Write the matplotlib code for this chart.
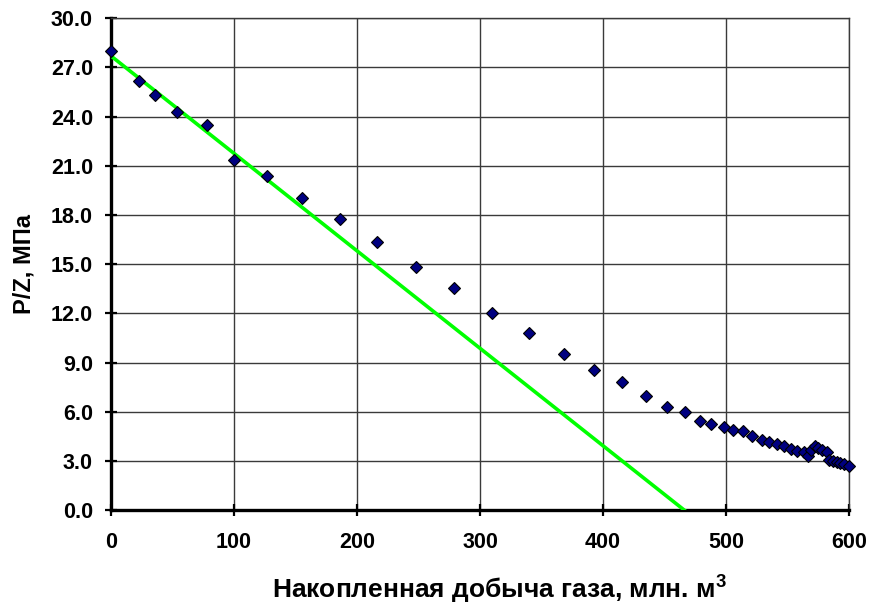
"""P/Z versus cumulative gas production, with the initial trend line."""

import matplotlib

matplotlib.use("Agg")
import matplotlib.pyplot as plt
import numpy as np

# cumulative production, mln m3
PROD = [
    0, 23, 36, 54, 78, 100, 127, 155, 186, 216, 248, 279, 310, 340, 368,
    393, 415, 435, 452, 467, 479, 488, 498, 506, 514, 521, 529, 535, 541,
    547, 553, 558, 563, 567, 569, 572, 575, 578, 582, 584, 587, 590, 593,
    596, 600,
]
# P/Z, MPa
PZ = [
    28.0, 26.15, 25.33, 24.27, 23.46, 21.36, 20.40, 19.02, 17.73, 16.33,
    14.84, 13.52, 12.01, 10.81, 9.55, 8.57, 7.80, 6.94, 6.31, 5.97, 5.44,
    5.23, 5.09, 4.87, 4.81, 4.52, 4.30, 4.13, 4.01, 3.88, 3.74, 3.62, 3.52,
    3.30, 3.68, 3.88, 3.76, 3.66, 3.55, 3.05, 2.97, 2.93, 2.87, 2.80, 2.69,
]
# trend through the early points
TREND_X = [0, 466]
TREND_Y = [27.7, 0.0]

X_TICKS = [0, 100, 200, 300, 400, 500, 600]
Y_TICKS = [0, 3, 6, 9, 12, 15, 18, 21, 24, 27, 30]


def main() -> None:
    plt.rcParams.update(
        {
            "font.family": "Liberation Sans",
            "font.weight": "bold",
            "axes.labelweight": "bold",
            "font.size": 15.5,
            "mathtext.fontset": "custom",
            "mathtext.rm": "Liberation Sans:bold",
            "mathtext.bf": "Liberation Sans:bold",
            "mathtext.it": "Liberation Sans:bold",
        }
    )

    fig = plt.figure(figsize=(8.74, 6.08), dpi=100)
    ax = fig.add_axes([0.127, 0.161, 0.8445, 0.809])

    ax.plot(TREND_X, TREND_Y, color="#00ff00", linewidth=2.6, zorder=3)
    ax.plot(
        PROD,
        PZ,
        linestyle="none",
        marker="D",
        markersize=5.8,
        markerfacecolor="#000080",
        markeredgecolor="black",
        markeredgewidth=0.8,
        clip_on=False,
        zorder=4,
    )

    ax.set_xlim(0, 600)
    ax.set_ylim(0, 30)
    ax.set_xticks(X_TICKS)
    ax.set_yticks(Y_TICKS, [f"{v:.1f}" for v in Y_TICKS])
    ax.grid(True, color="#3a3a3a", linewidth=1.0)
    ax.set_axisbelow(True)

    for side in ("left", "bottom"):
        ax.spines[side].set_linewidth(2.4)
        ax.spines[side].set_color("black")
    for side in ("top", "right"):
        ax.spines[side].set_linewidth(1.0)
        ax.spines[side].set_color("#3a3a3a")

    ax.tick_params(direction="inout", length=8, width=1.6, color="black")
    ax.tick_params(axis="y", pad=9)
    ax.tick_params(axis="x", pad=12)

    ax.set_xlabel("Накопленная добыча газа, млн. м$^3$", fontsize=19)
    ax.xaxis.set_label_coords(0.527, -0.13)
    ax.set_ylabel("P/Z, МПа", fontsize=17, labelpad=11)

    fig.savefig("out.png", dpi=100)


if __name__ == "__main__":
    main()
